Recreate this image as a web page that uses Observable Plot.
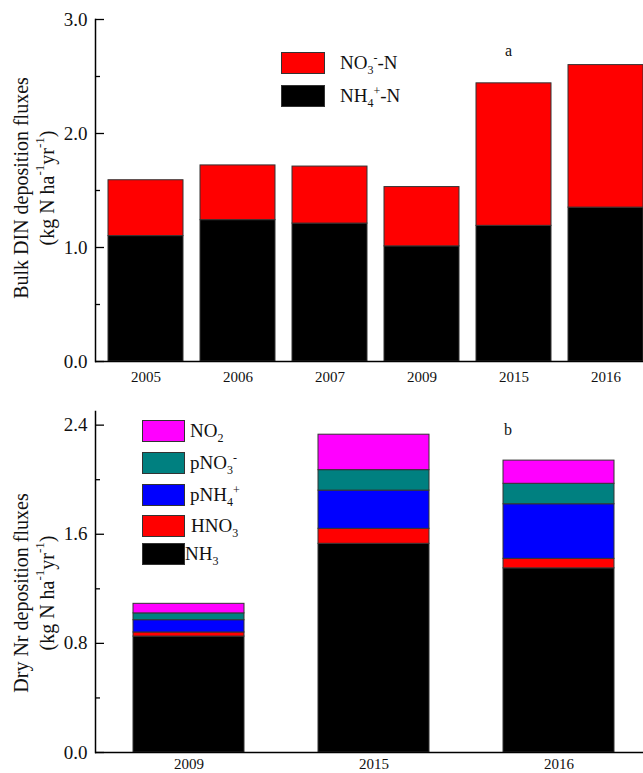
<!DOCTYPE html>
<html><head><meta charset="utf-8">
<script src="https://cdn.jsdelivr.net/npm/d3@7"></script>
<script src="https://cdn.jsdelivr.net/npm/@observablehq/plot@0.6"></script>
<style>
body{margin:0;background:#fff;}
#wrap{position:relative;width:643px;height:773px;font-family:"Liberation Serif","Times New Roman",serif;overflow:hidden;background:#fff;}
.panel{position:absolute;left:0;}
.lg{position:absolute;display:flex;align-items:center;font-size:19px;color:#111;white-space:nowrap;}
.sw{box-sizing:border-box;border:1px solid #333;}
.lg sub,.lg sup{font-size:12px;line-height:0;}
.tag{position:absolute;font-size:16px;color:#111;}
</style></head><body><div id="wrap"></div>
<script>
// ---- Panel a data ----
const yearsA = ["2005","2006","2007","2009","2015","2016"];
const nh4N = [1.10, 1.24, 1.21, 1.01, 1.19, 1.35];
const no3N = [0.49, 0.48, 0.50, 0.52, 1.25, 1.25];
const seriesA = ["NH4+-N", "NO3--N"];
const colorsA = ["#000000", "#ff0000"];
const legendA = [["NO3--N", "NO<sub>3</sub><sup>-</sup>-N"], ["NH4+-N", "NH<sub>4</sub><sup>+</sup>-N"]];
const ticksA = [0, 1, 2, 3];
const minorA = [0.5, 1.5, 2.5];

// ---- Panel b data ----
const yearsB = ["2009","2015","2016"];
const nh3  = [0.85, 1.53, 1.35];
const hno3 = [0.03, 0.11, 0.07];
const pnh4 = [0.09, 0.28, 0.40];
const pno3 = [0.05, 0.15, 0.15];
const no2  = [0.07, 0.26, 0.17];
const seriesB = ["NH3", "HNO3", "pNH4+", "pNO3-", "NO2"];
const colorsB = ["#000000", "#ff0000", "#0000ff", "#008080", "#ff00ff"];
const legendB = [["NO2","NO<sub>2</sub>"],["pNO3-","pNO<sub>3</sub><sup>-</sup>"],["pNH4+","pNH<sub>4</sub><sup>+</sup>"],["HNO3","HNO<sub>3</sub>"],["NH3","NH<sub>3</sub>"]];
const ticksB = [0, 0.8, 1.6, 2.4];
const minorB = [0.4, 1.2, 2.0];

const rowsA = yearsA.flatMap((y, i) => [
  {year: y, series: seriesA[0], value: nh4N[i]},
  {year: y, series: seriesA[1], value: no3N[i]}
]);
const valsB = [nh3, hno3, pnh4, pno3, no2];
const rowsB = yearsB.flatMap((y, i) => seriesB.map((s, k) => ({year: y, series: s, value: valsB[k][i]})));

const W = 643, ML = 95;
const frameW = W - ML;
const wrap = document.getElementById("wrap");

function panel({rows, years, series, colors, ydom, ticks, minor, height, mt, mb, xopts, xpad}) {
  return Plot.plot({
    width: W, height, marginLeft: ML, marginRight: 0, marginTop: mt, marginBottom: mb,
    style: {fontFamily: '"Liberation Serif", serif', fontSize: "19px", color: "#111", background: "#fff"},
    x: {domain: years, label: null, ...xopts},
    y: {domain: ydom, label: null},
    color: {domain: series, range: colors},
    marks: [
      Plot.barY(rows, {x: "year", y: "value", fill: "series", order: series, stroke: "#333", strokeWidth: 1}),
      Plot.tickY(ticks, {y: d => d, insetRight: frameW - 9, stroke: "#000", strokeWidth: 1.3}),
      Plot.tickY(minor, {y: d => d, insetRight: frameW - 5, stroke: "#000", strokeWidth: 1.3}),
      Plot.axisY(ticks, {tickSize: 0, tickPadding: 8, tickFormat: d => d.toFixed(1), label: null, fontSize: 19}),
      Plot.axisX({tickSize: 0, tickPadding: xpad, label: null, fontSize: 15}),
      Plot.ruleY([0], {stroke: "#000", strokeWidth: 1.5}),
      Plot.frame({anchor: "left", stroke: "#000", strokeWidth: 1.5})
    ]
  });
}

function yTitle(svg, line1, cy) {
  const s = d3.select(svg);
  s.append("text").attr("transform", `translate(21,${cy}) rotate(-90)`)
    .attr("text-anchor", "middle").attr("dominant-baseline", "central")
    .attr("font-size", 20).attr("fill", "#111").attr("font-family", '"Liberation Serif", serif').text(line1);
  const t = s.append("text").attr("transform", `translate(47,${cy}) rotate(-90)`)
    .attr("text-anchor", "middle").attr("dominant-baseline", "central")
    .attr("font-size", 20).attr("fill", "#111").attr("font-family", '"Liberation Serif", serif');
  t.append("tspan").text("(kg N ha");
  t.append("tspan").attr("font-size", 13).attr("dy", -8).text("-1");
  t.append("tspan").attr("dy", 8).text("yr");
  t.append("tspan").attr("font-size", 13).attr("dy", -8).text("-1");
  t.append("tspan").attr("dy", 8).text(")");
}

const svgA = panel({rows: rowsA, years: yearsA, series: seriesA, colors: colorsA, ydom: [0, 3],
  ticks: ticksA, minor: minorA, height: 390, mt: 19, mb: 29, xpad: 10,
  xopts: {paddingInner: 0.19, paddingOuter: 0.054, align: 1}});
yTitle(svgA, "Bulk DIN deposition fluxes", 188);
const dA = document.createElement("div"); dA.className = "panel"; dA.style.top = "0px"; dA.appendChild(svgA);
wrap.appendChild(dA);

const svgB = panel({rows: rowsB, years: yearsB, series: seriesB, colors: colorsB, ydom: [0, 2.5],
  ticks: ticksB, minor: minorB, height: 383, mt: 21, mb: 21, xpad: 6,
  xopts: {paddingInner: 0.4, paddingOuter: 0.18, align: 0.57}});
yTitle(svgB, "Dry Nr deposition fluxes", 203);
const dB = document.createElement("div"); dB.className = "panel"; dB.style.top = "390px"; dB.appendChild(svgB);
wrap.appendChild(dB);

// ---- Legends ----
const colA = Object.fromEntries(seriesA.map((s, i) => [s, colorsA[i]]));
const topsA = [52, 85];
legendA.forEach(([key, html], i) => {
  const el = document.createElement("div"); el.className = "lg";
  el.style.left = "281px"; el.style.top = topsA[i] + "px"; el.style.height = "22px";
  el.innerHTML = `<div class="sw" style="width:44px;height:22px;background:${colA[key]}"></div><span style="margin-left:15px">${html}</span>`;
  wrap.appendChild(el);
});
const colB = Object.fromEntries(seriesB.map((s, i) => [s, colorsB[i]]));
const topsB = [420, 452, 484, 515, 543];
const gapsB = [5, 5, 5, 6, 0];
legendB.forEach(([key, html], i) => {
  const el = document.createElement("div"); el.className = "lg";
  el.style.left = "142px"; el.style.top = topsB[i] + "px"; el.style.height = "22px";
  el.innerHTML = `<div class="sw" style="width:43px;height:22px;background:${colB[key]}"></div><span style="margin-left:${gapsB[i]}px">${html}</span>`;
  wrap.appendChild(el);
});

const tagA = document.createElement("div"); tagA.className = "tag"; tagA.textContent = "a";
tagA.style.left = "505px"; tagA.style.top = "42px"; wrap.appendChild(tagA);
const tagB = document.createElement("div"); tagB.className = "tag"; tagB.textContent = "b";
tagB.style.left = "504px"; tagB.style.top = "421px"; wrap.appendChild(tagB);
</script></body></html>
